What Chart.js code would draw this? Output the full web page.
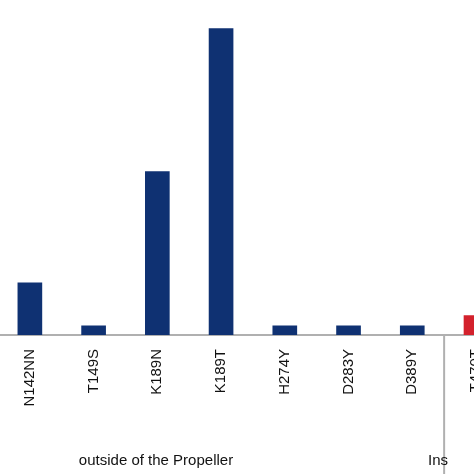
<!DOCTYPE html>
<html>
<head>
<meta charset="utf-8">
<script src="https://cdn.jsdelivr.net/npm/chart.js@4"></script>
<style>
  body { margin: 0; overflow: hidden; background: #fff; }
  #wrap { position: absolute; left: -2px; top: 0; width: 510px; height: 474px; }
</style>
</head>
<body>
<div id="wrap"><canvas id="barChart"></canvas></div>
<script>
var labels = ['N142NN', 'T149S', 'K189N', 'K189T', 'H274Y', 'D283Y', 'D389Y', 'T470T'];
var values = [5.1, 0.9, 16, 30, 0.9, 0.9, 0.9, 1.9];
var colors = ['#0f3172', '#0f3172', '#0f3172', '#0f3172', '#0f3172', '#0f3172', '#0f3172', '#d3212c'];
var groups = [
    { text: 'outside of the Propeller', x: 158 },
    { text: 'Ins', x: 440 }
];

// separator line + group labels under the axis
var groupPlugin = {
    id: 'groups',
    afterDraw: function(chart) {
        var c = chart.ctx;
        var xs = chart.scales.x;
        var sep = (xs.getPixelForValue(6) + xs.getPixelForValue(7)) / 2;
        var y0 = chart.chartArea.bottom;
        c.save();
        c.strokeStyle = '#b0b0b0';
        c.lineWidth = 2;
        c.beginPath();
        c.moveTo(sep, y0);
        c.lineTo(sep, 474);
        c.stroke();
        c.fillStyle = '#111';
        c.font = '15px "Liberation Sans", Arial, sans-serif';
        c.textAlign = 'center';
        c.textBaseline = 'middle';
        groups.forEach(function(g) {
            c.fillText(g.text, g.x, 461);
        });
        c.restore();
    }
};

new Chart(document.getElementById('barChart'), {
    type: 'bar',
    data: {
        labels: labels,
        datasets: [{
            data: values,
            backgroundColor: colors,
            barThickness: 24
        }]
    },
    options: {
        responsive: true,
        maintainAspectRatio: false,
        animation: false,
        layout: { padding: 0 },
        plugins: { legend: { display: false }, tooltip: { enabled: false } },
        scales: {
            x: {
                grid: { display: false, drawTicks: false },
                border: { color: '#b0b0b0', width: 2 },
                afterFit: function(s) { s.height = 139; },
                ticks: {
                    color: '#111',
                    minRotation: 90,
                    maxRotation: 90,
                    padding: 14,
                    font: { family: '"Liberation Sans", Arial, sans-serif', size: 15 }
                }
            },
            y: {
                display: false,
                min: 0,
                max: 32.8
            }
        }
    },
    plugins: [groupPlugin]
});
</script>
</body>
</html>
